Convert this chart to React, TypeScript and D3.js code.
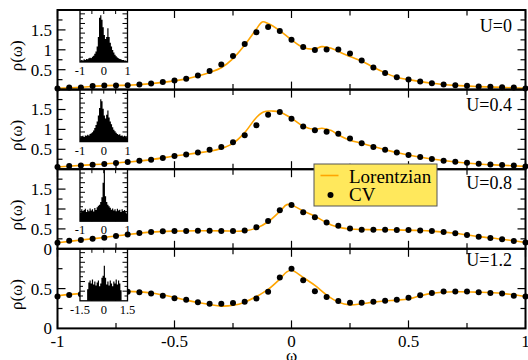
import React from 'react';
import * as d3 from 'd3';

// ---------- data ----------
const OMEGA = [
  -1, -0.95, -0.9, -0.85, -0.8, -0.75, -0.7, -0.65, -0.6, -0.55, -0.5,
  -0.45, -0.4, -0.35, -0.3, -0.25, -0.2, -0.15, -0.1, -0.05, 0,
  0.05, 0.1, 0.15, 0.2, 0.25, 0.3, 0.35, 0.4, 0.45, 0.5,
  0.55, 0.6, 0.65, 0.7, 0.75, 0.8, 0.85, 0.9, 0.95, 1,
];

const CV_U0 = [
  0.03, 0.055, 0.055, 0.09, 0.105, 0.105, 0.11, 0.13, 0.155, 0.19, 0.23,
  0.27, 0.355, 0.47, 0.63, 0.845, 1.145, 1.44, 1.57, 1.47, 1.255,
  1.07, 0.995, 1.005, 1.005, 0.905, 0.73, 0.555, 0.42, 0.31, 0.255,
  0.205, 0.16, 0.13, 0.11, 0.095, 0.08, 0.07, 0.06, 0.055, 0.03,
];
const CV_U04 = [
  0.055, 0.08, 0.095, 0.11, 0.13, 0.155, 0.18, 0.21, 0.24, 0.28, 0.33,
  0.37, 0.42, 0.49, 0.56, 0.68, 0.855, 1.105, 1.37, 1.44, 1.27,
  1.07, 0.98, 0.94, 0.89, 0.77, 0.655, 0.56, 0.49, 0.42, 0.355,
  0.305, 0.255, 0.21, 0.19, 0.16, 0.14, 0.12, 0.105, 0.09, 0.07,
];
const CV_U08 = [
  0.155, 0.205, 0.22, 0.255, 0.28, 0.32, 0.36, 0.395, 0.42, 0.44, 0.445,
  0.45, 0.455, 0.455, 0.45, 0.445, 0.46, 0.54, 0.7, 0.97, 1.1,
  0.92, 0.79, 0.66, 0.58, 0.51, 0.48, 0.48, 0.48, 0.47, 0.47,
  0.46, 0.445, 0.42, 0.39, 0.345, 0.305, 0.27, 0.24, 0.195, 0.16,
];
const CV_U12 = [
  0.40, 0.42, 0.43, 0.45, 0.46, 0.465, 0.46, 0.455, 0.44, 0.41, 0.38,
  0.36, 0.33, 0.31, 0.31, 0.32, 0.335, 0.377, 0.46, 0.64, 0.75,
  0.605, 0.466, 0.395, 0.344, 0.323, 0.323, 0.335, 0.348, 0.36, 0.386,
  0.415, 0.445, 0.462, 0.462, 0.462, 0.453, 0.445, 0.44, 0.41, 0.40,
];

const LOR_U0_X = [-1, -0.9, -0.8, -0.7, -0.6, -0.5, -0.45, -0.4, -0.35, -0.3, -0.25, -0.2, -0.15, -0.125, -0.1, -0.05, 0, 0.05, 0.1, 0.13, 0.17, 0.2, 0.25, 0.3, 0.35, 0.4, 0.45, 0.5, 0.6, 0.7, 0.8, 0.9, 1];
const LOR_U0_Y = [0.03, 0.055, 0.1, 0.11, 0.15, 0.22, 0.27, 0.34, 0.43, 0.55, 0.78, 1.12, 1.52, 1.7, 1.66, 1.48, 1.25, 1.06, 1.02, 1.08, 1.04, 0.96, 0.83, 0.72, 0.56, 0.42, 0.31, 0.25, 0.16, 0.105, 0.075, 0.055, 0.03];

const LOR_U04_X = [-1, -0.9, -0.8, -0.7, -0.6, -0.5, -0.45, -0.4, -0.35, -0.3, -0.25, -0.2, -0.15, -0.12, -0.08, -0.05, 0, 0.05, 0.1, 0.13, 0.17, 0.2, 0.25, 0.3, 0.35, 0.4, 0.5, 0.6, 0.7, 0.8, 0.9, 1];
const LOR_U04_Y = [0.055, 0.095, 0.13, 0.18, 0.24, 0.33, 0.37, 0.41, 0.45, 0.52, 0.65, 0.92, 1.3, 1.44, 1.46, 1.44, 1.28, 1.08, 1.0, 1.03, 0.97, 0.86, 0.73, 0.65, 0.57, 0.49, 0.355, 0.255, 0.18, 0.13, 0.1, 0.07];

const LOR_U08_X = [-1, -0.9, -0.8, -0.7, -0.6, -0.5, -0.4, -0.3, -0.2, -0.15, -0.1, -0.05, -0.02, 0, 0.05, 0.1, 0.13, 0.17, 0.22, 0.27, 0.35, 0.45, 0.55, 0.6, 0.7, 0.8, 0.9, 1];
const LOR_U08_Y = [0.15, 0.22, 0.285, 0.36, 0.42, 0.445, 0.455, 0.45, 0.45, 0.52, 0.68, 0.94, 1.11, 1.1, 0.95, 0.82, 0.72, 0.6, 0.52, 0.49, 0.48, 0.475, 0.46, 0.445, 0.39, 0.305, 0.24, 0.16];

const LOR_U12_X = [-1, -0.9, -0.8, -0.7, -0.6, -0.5, -0.45, -0.4, -0.35, -0.3, -0.25, -0.2, -0.15, -0.1, -0.05, -0.02, 0, 0.05, 0.1, 0.15, 0.2, 0.25, 0.3, 0.35, 0.4, 0.45, 0.5, 0.55, 0.6, 0.7, 0.8, 0.9, 1];
const LOR_U12_Y = [0.41, 0.44, 0.46, 0.465, 0.445, 0.39, 0.355, 0.325, 0.3, 0.28, 0.29, 0.33, 0.4, 0.49, 0.62, 0.71, 0.73, 0.64, 0.54, 0.42, 0.33, 0.295, 0.31, 0.33, 0.345, 0.355, 0.37, 0.41, 0.44, 0.46, 0.455, 0.44, 0.40];

// inset histograms (density), bins evenly spanning the inset domain
const HIST_U0 = [0.08, 0.11, 0.08, 0.14, 0.11, 0.16, 0.14, 0.19, 0.22, 0.19, 0.27, 0.32, 0.43, 0.55, 0.8, 1.3, 2.3, 2.43, 2.2, 1.8, 1.4, 1.2, 1.3, 1.75, 1.3, 1.0, 0.8, 0.62, 0.49, 0.38, 0.3, 0.24, 0.19, 0.16, 0.14, 0.11, 0.11, 0.08, 0.08, 0.05];
const HIST_U04 = [0.22, 0.27, 0.3, 0.24, 0.32, 0.3, 0.35, 0.32, 0.4, 0.43, 0.49, 0.57, 0.7, 0.86, 1.05, 1.35, 1.75, 2.2, 2.1, 1.7, 1.35, 1.2, 1.4, 1.62, 1.25, 1.05, 0.9, 0.75, 0.62, 0.54, 0.46, 0.4, 0.35, 0.38, 0.3, 0.32, 0.27, 0.3, 0.24, 0.22];
const HIST_U08 = [0.45, 0.62, 0.5, 0.58, 0.65, 0.48, 0.6, 0.52, 0.66, 0.55, 0.62, 0.5, 0.68, 0.58, 0.72, 0.8, 0.85, 1.0, 1.25, 2.0, 2.68, 1.3, 1.0, 0.85, 0.78, 0.7, 0.6, 0.66, 0.55, 0.62, 0.52, 0.64, 0.55, 0.6, 0.48, 0.62, 0.53, 0.58, 0.47, 0.4];
const HIST_U12 = [0, 0, 0, 0, 0, 0, 0.6, 0.95, 1.05, 0.9, 1.1, 0.85, 1.0, 0.8, 0.95, 1.05, 0.75, 0.9, 1.2, 1.3, 1.82, 1.2, 0.85, 1.0, 0.8, 1.05, 0.9, 0.75, 1.0, 0.9, 1.1, 0.85, 1.05, 0.9, 0.55, 0, 0, 0, 0, 0];

const U_LABELS = ['U=0', 'U=0.4', 'U=0.8', 'U=1.2'];
const Y_MAX = [2, 2, 2, 1];
const Y_TICK_LABELS = [[0.5, 1, 1.5], [0.5, 1, 1.5], [0, 0.5, 1, 1.5], [0, 0.5]];
const INSET_DOMAINS = [[-1, 1], [-1, 1], [-1, 1], [-1.5, 1.5]];
const INSET_LABELS = [['-1', '0', '1'], ['-1', '0', '1'], ['-1', '0', '1'], ['-1.5', '0', '1.5']];
const X_MAJOR = [-1, -0.5, 0, 0.5, 1];
const X_MINOR = [-0.75, -0.25, 0.25, 0.75];
const X_LABELS = ['-1', '-0.5', '0', '0.5', '1'];
const LEGEND_LABELS = ['Lorentzian', 'CV'];

const CV_SERIES = [CV_U0, CV_U04, CV_U08, CV_U12];
const LOR_SERIES = [[LOR_U0_X, LOR_U0_Y], [LOR_U04_X, LOR_U04_Y], [LOR_U08_X, LOR_U08_Y], [LOR_U12_X, LOR_U12_Y]];
const HISTS = [HIST_U0, HIST_U04, HIST_U08, HIST_U12];

// ---------- layout ----------
const W = 528, H = 360;
const LEFT = 57.5, RIGHT = 525.5;
const TOP = 10, PH = 79.6;
const INSET_L = 80, INSET_R = 127.5, INSET_H = 52, INSET_YMAX = 2.7;
const U_OFFSETS = [21.5, 21, 19.5, 17.5];
const FONT = '"Liberation Serif", "DejaVu Serif", "Times New Roman", serif';
const ORANGE = '#ffa500';

const x = d3.scaleLinear().domain([-1, 1]).range([LEFT, RIGHT]);

function Panel({ i }: { i: number }) {
  const top = TOP + i * PH;
  const bottom = top + PH;
  const y = d3.scaleLinear().domain([0, Y_MAX[i]]).range([bottom, top]);
  const [lx, ly] = LOR_SERIES[i];
  const line = d3.line<number>()
    .x((_, k) => x(lx[k]))
    .y((_, k) => y(ly[k]))
    .curve(d3.curveCatmullRom.alpha(0.5));
  const cv = CV_SERIES[i];

  const yTicks: { v: number; major: boolean }[] = [];
  for (let v = 0.25; v < Y_MAX[i] - 1e-6; v += 0.25) {
    yTicks.push({ v, major: Math.abs(v / 0.5 - Math.round(v / 0.5)) < 1e-6 });
  }

  // inset
  const [d0, d1] = INSET_DOMAINS[i];
  const xi = d3.scaleLinear().domain([d0, d1]).range([INSET_L, INSET_R]);
  const iTop = top, iBot = top + INSET_H;
  const yi = d3.scaleLinear().domain([0, INSET_YMAX]).range([iBot, iTop]);
  const hist = HISTS[i];
  const bw = (d1 - d0) / hist.length;
  let hp = `M${xi(d0)},${yi(0)}`;
  hist.forEach((v, k) => {
    hp += `L${xi(d0 + k * bw)},${yi(v)}L${xi(d0 + (k + 1) * bw)},${yi(v)}`;
  });
  hp += `L${xi(d1)},${yi(0)}Z`;
  const iyTicks: { v: number; major: boolean }[] = [];
  for (let v = 0.25; v < INSET_YMAX; v += 0.25) {
    iyTicks.push({ v, major: Math.abs(v / 0.5 - Math.round(v / 0.5)) < 1e-6 });
  }
  const ixTicks = [d0 + (d1 - d0) * 0.25, (d0 + d1) / 2, d0 + (d1 - d0) * 0.75];
  const ixLabelVals = [d0, (d0 + d1) / 2, d1];

  return (
    <g>
      <path d={line(ly) || ''} fill="none" stroke={ORANGE} strokeWidth={1.6} />
      {cv.map((v, k) => (
        <circle key={k} cx={x(OMEGA[k])} cy={y(v)} r={3} fill="#000" />
      ))}
      {/* x ticks top & bottom */}
      {X_MAJOR.concat(X_MINOR).map((v, k) => {
        const len = k < X_MAJOR.length ? 8 : 5.5;
        return (
          <g key={'xt' + k}>
            <line x1={x(v)} x2={x(v)} y1={top} y2={top + len} stroke="#000" strokeWidth={1.2} />
            <line x1={x(v)} x2={x(v)} y1={bottom} y2={bottom - len} stroke="#000" strokeWidth={1.2} />
          </g>
        );
      })}
      {/* y ticks left & right */}
      {yTicks.map((t, k) => {
        const len = t.major ? 8 : 5;
        return (
          <g key={'yt' + k}>
            <line x1={LEFT} x2={LEFT + len} y1={y(t.v)} y2={y(t.v)} stroke="#000" strokeWidth={1.2} />
            <line x1={RIGHT} x2={RIGHT - len} y1={y(t.v)} y2={y(t.v)} stroke="#000" strokeWidth={1.2} />
          </g>
        );
      })}
      {Y_TICK_LABELS[i].map((v, k) => (
        <text key={'yl' + k} x={52} y={y(v)} dy="0.35em" textAnchor="end" fontSize={17} fontFamily={FONT}>
          {String(v)}
        </text>
      ))}
      <text x={22} y={(top + bottom) / 2 + 6} transform={`rotate(-90, 22, ${(top + bottom) / 2 + 6})`}
        textAnchor="middle" fontSize={17} fontFamily={FONT}>ρ(ω)</text>
      <text x={512} y={top + U_OFFSETS[i]} textAnchor="end" fontSize={18} fontFamily={FONT}>{U_LABELS[i]}</text>

      {/* inset */}
      <rect x={INSET_L} y={iTop} width={INSET_R - INSET_L} height={INSET_H} fill="#fff" />
      <path d={hp} fill="#000" stroke="none" />
      {iyTicks.map((t, k) => {
        const len = t.major ? 5 : 3;
        return (
          <g key={'iy' + k}>
            <line x1={INSET_L} x2={INSET_L + len} y1={yi(t.v)} y2={yi(t.v)} stroke="#000" strokeWidth={1} />
            <line x1={INSET_R} x2={INSET_R - len} y1={yi(t.v)} y2={yi(t.v)} stroke="#000" strokeWidth={1} />
          </g>
        );
      })}
      {ixTicks.map((v, k) => (
        <g key={'ix' + k}>
          <line x1={xi(v)} x2={xi(v)} y1={iTop} y2={iTop + 4} stroke="#000" strokeWidth={1} />
          <line x1={xi(v)} x2={xi(v)} y1={iBot} y2={iBot - 4} stroke="#000" strokeWidth={1} />
        </g>
      ))}
      <rect x={INSET_L} y={iTop} width={INSET_R - INSET_L} height={INSET_H} fill="none" stroke="#000" strokeWidth={1.3} />
      {ixLabelVals.map((v, k) => (
        <text key={'il' + k} x={xi(v)} y={iBot + 13} textAnchor="middle" fontSize={12.5} fontFamily={FONT}>
          {INSET_LABELS[i][k]}
        </text>
      ))}

      <rect x={LEFT} y={top} width={RIGHT - LEFT} height={PH} fill="none" stroke="#000" strokeWidth={2} />
    </g>
  );
}

export default function App() {
  const bottom = TOP + 4 * PH;
  return (
    <svg width={W} height={H} viewBox={`0 0 ${W} ${H}`}
      style={{ position: 'absolute', left: 0, top: 0, background: '#fff' }}>
      <rect width={W} height={H} fill="#fff" />
      {[0, 1, 2, 3].map((i) => <Panel key={i} i={i} />)}
      {X_MAJOR.map((v, k) => (
        <text key={k} x={x(v)} y={bottom + 18.5} textAnchor="middle" fontSize={17} fontFamily={FONT}>
          {X_LABELS[k]}
        </text>
      ))}
      <text x={x(0)} y={361} textAnchor="middle" fontSize={17} fontFamily={FONT}>ω</text>

      {/* legend */}
      <rect x={314} y={164} width={123} height={42} fill="#ffe85c" stroke="#555" strokeWidth={1} />
      <line x1={320.5} x2={338.5} y1={175.5} y2={175.5} stroke={ORANGE} strokeWidth={1.6} />
      <text x={349} y={182.5} fontSize={19} fontFamily={FONT}>{LEGEND_LABELS[0]}</text>
      <circle cx={330.5} cy={195} r={3} fill="#000" />
      <text x={349} y={200.5} fontSize={19} fontFamily={FONT}>{LEGEND_LABELS[1]}</text>
    </svg>
  );
}
